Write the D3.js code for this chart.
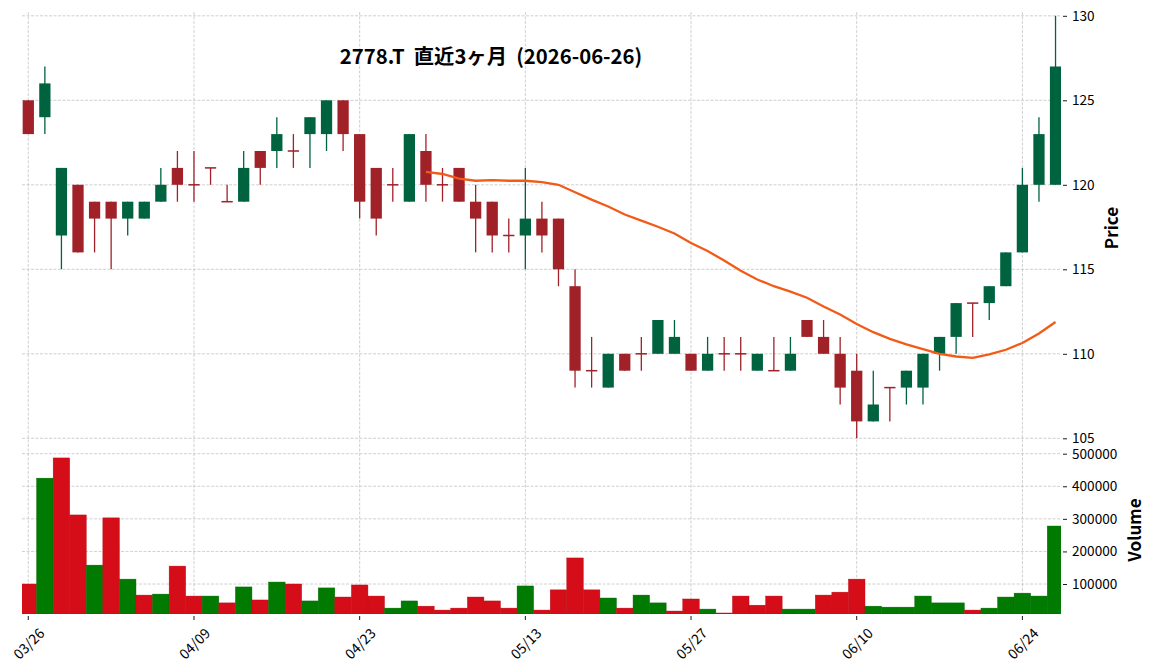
<!DOCTYPE html>
<html>
<head>
<meta charset="utf-8">
<script src="https://cdn.jsdelivr.net/npm/d3@7"></script>
<style>
  body { margin: 0; background: #fff; }
  svg { display: block; font-family: "Noto Sans CJK JP", "Noto Sans", sans-serif; }
</style>
</head>
<body>
<div id="display"></div>
<script>
// 2778.T daily candles, last 3 months (trading days only)
const dates = ['2026-03-26','2026-03-27','2026-03-30','2026-03-31','2026-04-01','2026-04-02','2026-04-03',
  '2026-04-06','2026-04-07','2026-04-08','2026-04-09','2026-04-10','2026-04-13','2026-04-14','2026-04-15',
  '2026-04-16','2026-04-17','2026-04-20','2026-04-21','2026-04-22','2026-04-23','2026-04-24','2026-04-27',
  '2026-04-28','2026-04-30','2026-05-01','2026-05-07','2026-05-08','2026-05-11','2026-05-12','2026-05-13',
  '2026-05-14','2026-05-15','2026-05-18','2026-05-19','2026-05-20','2026-05-21','2026-05-22','2026-05-25',
  '2026-05-26','2026-05-27','2026-05-28','2026-05-29','2026-06-01','2026-06-02','2026-06-03','2026-06-04',
  '2026-06-05','2026-06-08','2026-06-09','2026-06-10','2026-06-11','2026-06-12','2026-06-15','2026-06-16',
  '2026-06-17','2026-06-18','2026-06-19','2026-06-22','2026-06-23','2026-06-24','2026-06-25','2026-06-26'];

const open  = [125,124,117,120,119,119,118,118,119,121,120,121,119,119,122,122,122,123,123,125,123,121,120,119,122,
  120,121,119,119,117,117,118,118,114,109,108,110,110,110,110,110,109,110,110,109,109,109,112,111,110,109,106,108,
  108,108,110,111,113,113,114,116,120,120];
const high  = [125,127,121,120,119,119,119,119,121,122,122,121,120,122,122,124,123,124,125,125,123,121,121,123,123,
  121,121,120,119,118,121,119,118,115,111,110,110,111,112,112,110,111,111,111,110,111,111,112,112,111,110,109,108,
  109,110,111,113,113,114,116,121,124,130];
const low   = [123,123,115,116,116,115,117,118,119,119,119,120,119,119,120,121,121,121,122,122,118,117,119,119,119,
  119,119,116,116,116,115,116,114,108,108,108,109,109,110,110,109,109,109,109,109,109,109,111,110,107,105,106,106,
  107,107,109,110,111,112,114,116,119,120];
const close = [123,126,121,116,118,118,119,119,120,120,120,121,119,121,121,123,122,124,125,123,119,118,120,123,120,
  120,119,118,117,117,118,117,115,109,109,110,109,110,112,111,109,110,110,110,110,109,110,111,110,108,106,107,108,
  109,110,111,113,113,114,116,120,123,127];
const volume = [100000,425000,487000,312000,158000,303000,115000,66000,69000,155000,63000,63000,42000,91000,51000,
  106000,100000,48000,88000,60000,97000,63000,26000,48000,32000,20000,26000,60000,48000,26000,94000,20000,82000,
  180000,82000,57000,26000,66000,42000,17000,54000,23000,11000,63000,35000,63000,23000,23000,66000,75000,115000,
  32000,29000,29000,63000,42000,42000,20000,26000,60000,72000,63000,278000];

// 25-day moving average, first value at index 24
const ma25Start = 24;
const ma25 = [120.76,120.64,120.36,120.24,120.28,120.24,120.24,120.16,120.00,119.56,119.12,118.72,118.24,117.88,
  117.52,117.12,116.56,116.08,115.52,114.92,114.40,114.00,113.68,113.32,112.80,112.32,111.76,111.28,110.88,110.56,
  110.28,110.00,109.84,109.76,109.96,110.24,110.64,111.20,111.88];

const priceTicks = [105, 110, 115, 120, 125, 130];
const volumeTicks = [100000, 200000, 300000, 400000, 500000];
const xTickIdx = [0, 10, 20, 30, 40, 50, 60];
const title = '2778.T  直近3ヶ月  (2026-06-26)';

let w = 1152;
let h = 671;
let left = 22, right = 1061;
let priceTop = 12, volBottom = 614;

let viz = d3.select('#display')
  .append('svg')
    .attr('width', w)
    .attr('height', h)
    .style('background-color', 'white');

let xScale = d3.scaleLinear().domain([-0.38, 62.33]).range([left, right]);
let step = xScale(1) - xScale(0);
let yPrice = d3.scaleLinear().domain([105, 130]).range([438.3, 15.8]);
let yVol = d3.scaleLinear().domain([100000, 500000]).range([584, 453.7]);

viz.append('clipPath').attr('id', 'plotclip')
  .append('rect').attr('x', left).attr('y', 0).attr('width', right - left).attr('height', volBottom);

// grid
let grid = viz.append('g').attr('stroke', '#c4c4c4').attr('stroke-width', 0.8).attr('stroke-dasharray', '3,1.5');
grid.selectAll('.vg').data(xTickIdx).enter().append('line')
  .attr('x1', d => xScale(d)).attr('x2', d => xScale(d))
  .attr('y1', priceTop).attr('y2', volBottom);
grid.selectAll('.pg').data(priceTicks).enter().append('line')
  .attr('x1', left).attr('x2', right)
  .attr('y1', d => yPrice(d)).attr('y2', d => yPrice(d));
grid.selectAll('.volg').data(volumeTicks).enter().append('line')
  .attr('x1', left).attr('x2', right)
  .attr('y1', d => yVol(d)).attr('y2', d => yVol(d));

let idx = d3.range(dates.length);
let plot = viz.append('g').attr('clip-path', 'url(#plotclip)');

// volume bars (colour follows close vs previous close)
const volUp = '#007a00', volDown = '#d50d18';
plot.selectAll('.vol').data(idx).enter().append('rect')
  .attr('x', i => xScale(i) - step / 2)
  .attr('width', step)
  .attr('y', i => yVol(volume[i]))
  .attr('height', i => volBottom - yVol(volume[i]))
  .attr('fill', i => (close[i] > (i > 0 ? close[i - 1] : open[i])) ? volUp : volDown)
  .attr('stroke', i => (close[i] > (i > 0 ? close[i - 1] : open[i])) ? '#006a00' : '#b80b15')
  .attr('stroke-width', 0.4);

// candles
const upColor = '#006340', downColor = '#a02128';
let bw = step * 0.68;
let candles = plot.selectAll('.candle').data(idx).enter().append('g');
candles.append('line')
  .attr('x1', i => xScale(i)).attr('x2', i => xScale(i))
  .attr('y1', i => yPrice(high[i])).attr('y2', i => yPrice(low[i]))
  .attr('stroke', i => close[i] > open[i] ? upColor : downColor)
  .attr('stroke-width', 1.3);
candles.append('rect')
  .attr('x', i => xScale(i) - bw / 2)
  .attr('width', bw)
  .attr('y', i => {
    let top = yPrice(Math.max(open[i], close[i]));
    let bot = yPrice(Math.min(open[i], close[i]));
    return bot - top < 1.5 ? top - 0.75 : top;
  })
  .attr('height', i => Math.max(1.5, yPrice(Math.min(open[i], close[i])) - yPrice(Math.max(open[i], close[i]))))
  .attr('fill', i => close[i] > open[i] ? upColor : downColor);

// moving average
let maLine = d3.line()
  .x((d, k) => xScale(ma25Start + k))
  .y(d => yPrice(d));
plot.append('path')
  .attr('d', maLine(ma25))
  .attr('fill', 'none')
  .attr('stroke', '#f25a17')
  .attr('stroke-width', 2.3);

// right axes
let priceAxis = d3.axisRight(yPrice).tickValues(priceTicks).tickSize(4).tickPadding(5);
let pa = viz.append('g').attr('transform', 'translate(' + 1063 + ',0)').call(priceAxis);
let volAxis = d3.axisRight(yVol).tickValues(volumeTicks).tickSize(4).tickPadding(5).tickFormat(d3.format('d'));
let va = viz.append('g').attr('transform', 'translate(' + 1063 + ',0)').call(volAxis);
[pa, va].forEach(a => {
  a.select('.domain').remove();
  a.selectAll('line').attr('stroke', '#000').attr('stroke-width', 0.9);
  a.selectAll('text').attr('fill', '#000').style('font-size', '13.6px')
    .style('font-family', '"Noto Sans CJK JP", "Noto Sans", sans-serif');
});

// bottom axis
let xa = viz.append('g');
xa.selectAll('line').data(xTickIdx).enter().append('line')
  .attr('x1', d => xScale(d)).attr('x2', d => xScale(d))
  .attr('y1', 616).attr('y2', 620)
  .attr('stroke', '#000').attr('stroke-width', 0.9);
xa.selectAll('text').data(xTickIdx).enter().append('text')
  .attr('transform', d => 'translate(' + xScale(d) + ',643) rotate(-45)')
  .attr('text-anchor', 'middle')
  .attr('dominant-baseline', 'central')
  .style('font-size', '14px')
  .text(d => dates[d].slice(5).replace('-', '/'));

// axis titles
viz.append('text')
  .attr('transform', 'translate(1110,228) rotate(-90)')
  .attr('text-anchor', 'middle').attr('dominant-baseline', 'central')
  .style('font-size', '17px').style('font-weight', 'bold')
  .text('Price');
viz.append('text')
  .attr('transform', 'translate(1133,530) rotate(-90)')
  .attr('text-anchor', 'middle').attr('dominant-baseline', 'central')
  .style('font-size', '17px').style('font-weight', 'bold')
  .text('Volume');

// title
viz.append('text')
  .attr('x', 491).attr('y', 64)
  .attr('text-anchor', 'middle')
  .style('font-size', '20.3px').style('font-weight', 'bold')
  .style('white-space', 'pre')
  .text(title);
</script>
</body>
</html>
